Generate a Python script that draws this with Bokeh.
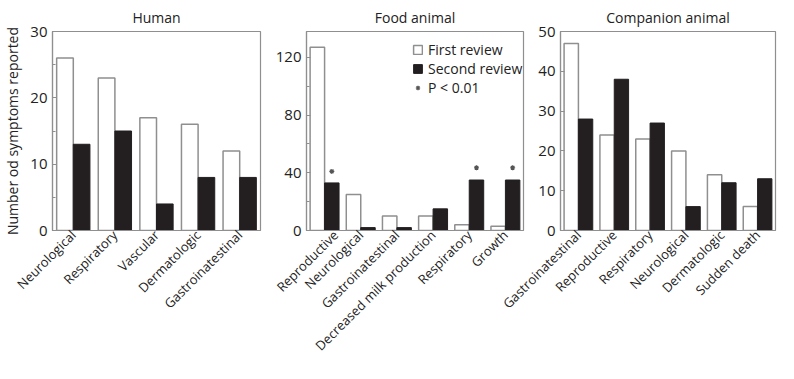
from math import pi
from bokeh.plotting import figure
from bokeh.layouts import row
from bokeh.models import (ColumnDataSource, FactorRange, Range1d, SingleIntervalTicker,
                          Legend, LegendItem)
from bokeh.transform import dodge
from bokeh.embed import file_html
from bokeh.resources import INLINE

FONT = "Open Sans"
GRAY = "#8f8f8f"
BLACK = "#231f20"
TXT = "#222222"

human_cats = ["Neurological", "Respiratory", "Vascular", "Dermatologic", "Gastroinatestinal"]
human_first = [26, 23, 17, 16, 12]
human_second = [13, 15, 4, 8, 8]

food_cats = ["Reproductive", "Neurological", "Gastroinatestinal",
             "Decreased milk production", "Respiratory", "Growth"]
food_first = [127, 25, 10, 10, 4, 3]
food_second = [33, 2, 2, 15, 35, 35]
food_sig_cats = ["Reproductive", "Respiratory", "Growth"]
food_sig_y = [41, 43.5, 43.5]

comp_cats = ["Gastroinatestinal", "Reproductive", "Respiratory", "Neurological",
             "Dermatologic", "Sudden death"]
comp_first = [47, 24, 23, 20, 14, 6]
comp_second = [28, 38, 27, 6, 12, 13]


def panel(title, cats, first, second, ymax, interval, minor, width, left, right, ylabel=None):
    src = ColumnDataSource(dict(cat=cats, first=first, second=second))
    p = figure(x_range=FactorRange(*cats), y_range=Range1d(0, ymax),
               width=width, height=363, output_backend="svg", toolbar_location=None,
               min_border_left=left, min_border_right=right, min_border_top=23,
               min_border_bottom=132)
    p.border_fill_color = None
    p.title.text = title
    p.title.align = "center"
    p.title.text_font = FONT
    p.title.text_font_size = "14px"
    p.title.text_font_style = "normal"
    p.title.text_color = TXT
    r1 = p.vbar(x=dodge("cat", -0.2, range=p.x_range), top="first", width=0.4, source=src,
                fill_color="white", line_color=GRAY, line_width=1.5)
    r2 = p.vbar(x=dodge("cat", 0.2, range=p.x_range), top="second", width=0.4, source=src,
                fill_color=BLACK, line_color=BLACK)
    p.xgrid.visible = False
    p.ygrid.visible = False
    p.outline_line_color = GRAY
    p.outline_line_width = 1.2
    yax = p.left[0]
    xax = p.below[0]
    yax.ticker = SingleIntervalTicker(interval=interval, num_minor_ticks=minor)
    for ax in (xax, yax):
        ax.axis_line_color = GRAY
        ax.axis_line_width = 1.2
        ax.major_label_text_font = FONT
        ax.major_label_text_color = TXT
    yax.major_label_text_font_size = "15px"
    yax.major_label_standoff = 5
    yax.major_tick_in = 4
    yax.major_tick_out = 0
    yax.minor_tick_in = 3
    yax.minor_tick_out = 0
    yax.major_tick_line_color = GRAY
    yax.minor_tick_line_color = GRAY
    xax.major_label_text_font_size = "13px"
    xax.major_label_orientation = pi / 4
    xax.major_tick_in = 0
    xax.major_tick_out = 0
    xax.major_label_standoff = 2
    p.x_range.range_padding = 0
    if ylabel:
        yax.axis_label = ylabel
        yax.axis_label_text_font = FONT
        yax.axis_label_text_font_size = "14px"
        yax.axis_label_text_font_style = "normal"
        yax.axis_label_text_color = TXT
        yax.axis_label_standoff = 5
    return p, r1, r2


p1, _, _ = panel("Human", human_cats, human_first, human_second, 30, 10, 2, 272, 42, 12,
                 ylabel="Number od symptoms reported")
p2, f1, f2 = panel("Food animal", food_cats, food_first, food_second, 138, 40, 2, 253, 30, 2)
sig = ColumnDataSource(dict(cat=food_sig_cats, y=food_sig_y))
s = p2.scatter(x=dodge("cat", 0.2, range=p2.x_range), y="y", source=sig, marker="asterisk",
               size=5, line_color="#555555", line_width=1.2)
leg = Legend(items=[LegendItem(label="First review", renderers=[f1]),
                    LegendItem(label="Second review", renderers=[f2]),
                    LegendItem(label="P < 0.01", renderers=[s])],
             location=(106, 133), background_fill_alpha=0, border_line_alpha=0,
             label_text_font=FONT, label_text_font_size="14px", label_text_color=TXT,
             glyph_width=11, glyph_height=11, label_standoff=5, spacing=-3, padding=0,
             margin=0, label_height=14)
p2.add_layout(leg)
p3, _, _ = panel("Companion animal", comp_cats, comp_first, comp_second, 50, 10, 0, 280, 62, 3)
p3.margin = (0, 0, 0, -27)

layout = row(p1, p2, p3, spacing=0)
open("out.html", "w").write(file_html(layout, INLINE))
